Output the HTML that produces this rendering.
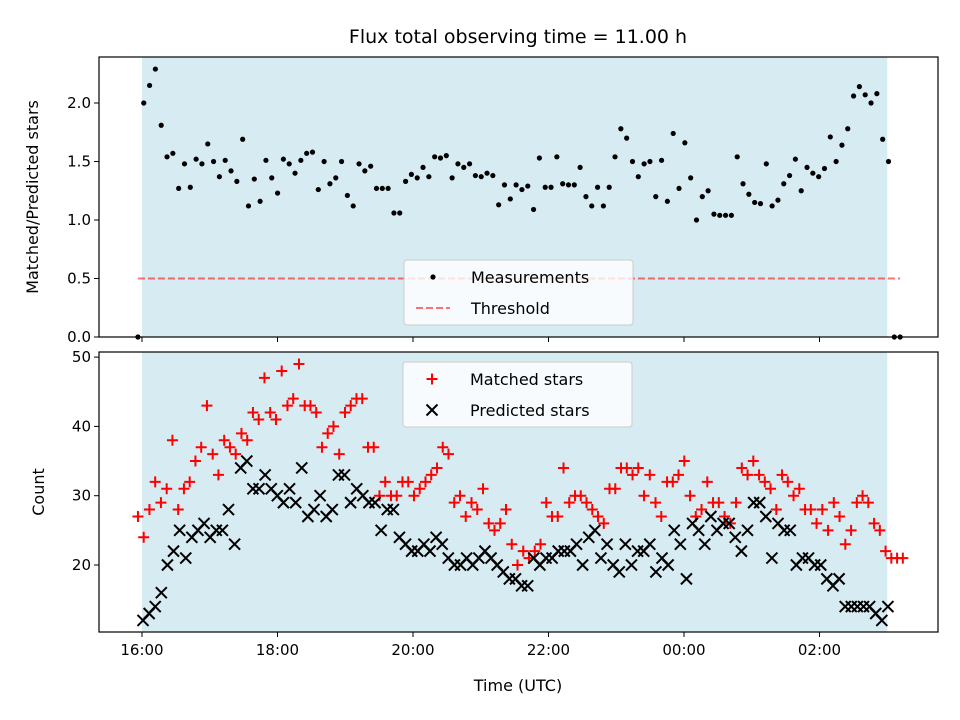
<!DOCTYPE html>
<html><head><meta charset="utf-8"><style>
body{margin:0;background:#fff}
svg{display:block;font-family:"DejaVu Sans","Liberation Sans",sans-serif}
</style></head><body>
<svg id="c" width="960" height="720"></svg>
<script>
const ratioValues=[0,2.00,2.15,2.29,1.81,1.54,1.57,1.27,1.48,1.28,1.52,1.48,1.65,1.50,1.37,1.51,1.42,1.33,1.69,1.12,1.35,1.16,1.51,1.36,1.23,1.52,1.48,1.40,1.51,1.57,1.58,1.26,1.50,1.31,1.36,1.50,1.21,1.12,1.48,1.42,1.46,1.27,1.27,1.27,1.06,1.06,1.33,1.39,1.36,1.45,1.37,1.54,1.53,1.55,1.36,1.48,1.45,1.48,1.38,1.37,1.40,1.38,1.13,1.30,1.18,1.30,1.26,1.29,1.09,1.53,1.28,1.28,1.54,1.31,1.30,1.30,1.45,1.20,1.12,1.28,1.12,1.28,1.54,1.78,1.70,1.50,1.37,1.48,1.50,1.20,1.51,1.16,1.74,1.27,1.66,1.36,1.00,1.20,1.25,1.05,1.04,1.04,1.04,1.54,1.31,1.22,1.15,1.14,1.48,1.12,1.17,1.31,1.38,1.52,1.25,1.45,1.40,1.37,1.44,1.71,1.50,1.64,1.78,2.06,2.14,2.07,2.00,2.08,1.69,1.50,0,0];
const matchedValues=[27,24,28,32,29,31,38,28,31,32,35,37,43,36,33,38,37,36,39,38,42,41,47,42,41,48,43,44,49,43,43,42,37,39,40,36,42,43,44,44,37,37,30,32,30,30,32,32,30,31,32,33,34,37,36,29,30,27,29,28,31,26,25,26,28,23,20,22,21,22,23,29,27,27,34,29,30,30,29,28,27,26,31,31,34,34,33,34,30,33,29,27,32,32,33,35,30,27,28,32,29,29,27,26,29,34,33,35,33,32,31,28,33,32,30,31,28,28,26,28,25,29,27,23,25,29,30,29,26,25,22,21,21,21];
const predictedValues=[12,13,14,16,20,22,25,21,24,25,26,24,25,25,28,23,34,35,31,31,33,31,30,29,31,29,34,27,28,30,27,28,33,33,29,31,30,29,29,25,28,28,24,23,22,22,23,22,24,23,21,20,20,21,20,21,22,21,20,19,18,18,17,17,21,20,21,21,22,22,22,23,20,24,25,21,23,20,19,23,20,22,22,23,19,21,20,25,23,18,26,25,23,27,25,26,26,24,22,25,29,29,27,21,26,25,25,20,21,21,20,20,18,17,18,14,14,14,14,14,13,12,14];
const ratioSpan=[-0.06,11.19], matchedSpan=[-0.06,11.23], predictedSpan=[0.015,11.01];
const xTickLabels=["16:00","18:00","20:00","22:00","00:00","02:00"];
const xTickHours=[0,2,4,6,8,10];
const topTicks=[0.0,0.5,1.0,1.5,2.0];
const botTicks=[20,30,40,50];
const threshold=0.5, obsStart=0, obsEnd=11;

const NS="http://www.w3.org/2000/svg", svg=document.getElementById('c');
function el(t,a,p){const e=document.createElementNS(NS,t);for(const k in a)e.setAttribute(k,a[k]);(p||svg).appendChild(e);return e;}
const X=h=>142+h*67.75;
const Yt=v=>337-v*117;
const Yb=v=>565-(v-20)*6.93;
const L=99,R=938;
function timeAt(span,n,i){return span[0]+(span[1]-span[0])*i/(n-1);}

let t=el('text',{x:518,y:43,'text-anchor':'middle','font-size':19});t.textContent='Flux total observing time = 11.00 h';


function panel(top,bot,name){
  const g=el('g',{});
  const r=el('rect',{x:X(obsStart),y:top,width:X(obsEnd)-X(obsStart),height:bot-top,fill:'#add8e6','fill-opacity':0.5},g);
  
  return g;
}
// top panel
const gt=panel(57,337,'ratio-panel');
const ln=el('line',{x1:X(-0.06),x2:X(11.19),y1:Yt(threshold),y2:Yt(threshold),stroke:'#ff0000','stroke-opacity':0.55,'stroke-width':2,'stroke-dasharray':'7,3'},gt);

ratioValues.forEach((v,i)=>{const c=el('circle',{cx:X(timeAt(ratioSpan,ratioValues.length,i)),cy:Yt(v),r:2.6,fill:'#000'},gt);
});
// bottom panel
const gb=panel(352,632,'count-panel');
matchedValues.forEach((v,i)=>{const x=X(timeAt(matchedSpan,matchedValues.length,i)),y=Yb(v);
const p=el('path',{d:`M${x-5.5},${y}H${x+5.5}M${x},${y-5.5}V${y+5.5}`,stroke:'#ff0000','stroke-width':2},gb);
});
predictedValues.forEach((v,i)=>{const x=X(timeAt(predictedSpan,predictedValues.length,i)),y=Yb(v);
const p=el('path',{d:`M${x-5.5},${y-5.5}L${x+5.5},${y+5.5}M${x-5.5},${y+5.5}L${x+5.5},${y-5.5}`,stroke:'#000','stroke-width':2},gb);
});
// frames and ticks
[[57,337],[352,632]].forEach(([a,b],k)=>{
  const f=el('rect',{x:L,y:a,width:R-L,height:b-a,fill:'none',stroke:'#000','stroke-width':1.2});
  
  xTickHours.forEach((h,i)=>{el('line',{x1:X(h),x2:X(h),y1:b,y2:b+5,stroke:'#000'});
    if(k){const tx=el('text',{x:X(h),y:b+23,'text-anchor':'middle','font-size':15});tx.textContent=xTickLabels[i];
    }});
});
topTicks.forEach(v=>{el('line',{x1:L-5,x2:L,y1:Yt(v),y2:Yt(v),stroke:'#000'});
 const tx=el('text',{x:L-8,y:Yt(v)+5,'text-anchor':'end','font-size':15});tx.textContent=v.toFixed(1);
 });
botTicks.forEach(v=>{el('line',{x1:L-5,x2:L,y1:Yb(v),y2:Yb(v),stroke:'#000'});
 const tx=el('text',{x:L-8,y:Yb(v)+5,'text-anchor':'end','font-size':15});tx.textContent=v;
 });
t=el('text',{x:0,y:0,'text-anchor':'middle','font-size':16,transform:'translate(38,197) rotate(-90)'});t.textContent='Matched/Predicted stars';

t=el('text',{x:0,y:0,'text-anchor':'middle','font-size':16,transform:'translate(44,492) rotate(-90)'});t.textContent='Count';

t=el('text',{x:518,y:691,'text-anchor':'middle','font-size':16});t.textContent='Time (UTC)';

// legends
function legend(x,y,items,name){
  const g=el('g',{});
  el('rect',{x:x,y:y,width:229,height:65,rx:3,fill:'#fff','fill-opacity':0.8,stroke:'#ccc'},g);
  items.forEach((it,i)=>{const cy=y+17+i*31,cx=x+29;
    if(it[0]=='dot')el('circle',{cx:cx,cy:cy,r:2.6,fill:'#000'},g);
    if(it[0]=='dash')el('line',{x1:x+12,x2:x+46,y1:cy,y2:cy,stroke:'#ff0000','stroke-opacity':0.55,'stroke-width':2,'stroke-dasharray':'7,3'},g);
    if(it[0]=='plus')el('path',{d:`M${cx-5.5},${cy}H${cx+5.5}M${cx},${cy-5.5}V${cy+5.5}`,stroke:'#f00','stroke-width':2},g);
    if(it[0]=='x')el('path',{d:`M${cx-5.5},${cy-5.5}L${cx+5.5},${cy+5.5}M${cx-5.5},${cy+5.5}L${cx+5.5},${cy-5.5}`,stroke:'#000','stroke-width':2},g);
    const tx=el('text',{x:x+67,y:cy+6,'font-size':16},g);tx.textContent=it[1];
    });
}
legend(404,260,[['dot','Measurements'],['dash','Threshold']],'ratio-legend');
legend(403,362,[['plus','Matched stars'],['x','Predicted stars']],'count-legend');
</script>
</body></html>
